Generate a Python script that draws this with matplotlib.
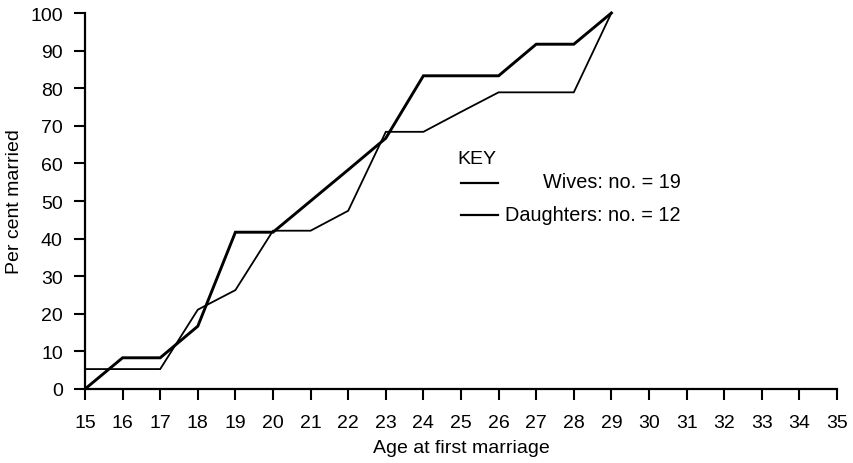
import matplotlib
matplotlib.use("Agg")
import matplotlib.pyplot as plt
from matplotlib.lines import Line2D

plt.rcParams["font.family"] = ["Liberation Sans", "DejaVu Sans"]

# Cumulative percentage married by age
ages = [15, 16, 17, 18, 19, 20, 21, 22, 23, 24, 25, 26, 27, 28, 29]
wives_pct = [5.3, 5.3, 5.3, 21.1, 26.3, 42.1, 42.1, 47.4, 68.4, 68.4, 73.7, 78.9, 78.9, 78.9, 100.0]
daughters_pct = [0.0, 8.3, 8.3, 16.7, 41.7, 41.7, 50.0, 58.3, 66.7, 83.3, 83.3, 83.3, 91.7, 91.7, 100.0]

x_ticks = list(range(15, 36))
y_ticks = list(range(0, 101, 10))
wives_label = "Wives: no. = 19"
daughters_label = "Daughters: no. = 12"

fig = plt.figure(figsize=(8.54, 4.64), dpi=100)
ax = fig.add_axes([85 / 854, 1 - 390 / 464, (837 - 85) / 854, (390 - 14) / 464])

ax.plot(ages, wives_pct, color="black", lw=1.3, clip_on=False, solid_joinstyle="miter")
ax.plot(ages, daughters_pct, color="black", lw=2.1, clip_on=False, solid_joinstyle="miter")

ax.set_xlim(15, 35)
ax.set_ylim(0, 100)
ax.spines["top"].set_visible(False)
ax.spines["right"].set_visible(False)
for s in ("left", "bottom"):
    ax.spines[s].set_linewidth(1.6)

ax.set_xticks(x_ticks)
ax.set_yticks(y_ticks)
ax.tick_params(axis="both", direction="out", length=8, width=1.5, labelsize=14)
ax.tick_params(axis="x", pad=10)
ax.tick_params(axis="y", pad=8)

ax.set_xlabel("Age at first marriage", fontsize=14, labelpad=6)
ax.set_ylabel("Per cent married", fontsize=14, labelpad=5)

# Key
fig.text(457 / 854, 1 - 160 / 464, "KEY", fontsize=14, va="center", ha="left")
fig.add_artist(Line2D([461 / 854, 498 / 854], [1 - 184 / 464] * 2, color="black", lw=1.6))
fig.add_artist(Line2D([461 / 854, 498 / 854], [1 - 216 / 464] * 2, color="black", lw=1.6))
fig.text(681 / 854, 1 - 183 / 464, wives_label, fontsize=14.3, va="center", ha="right")
fig.text(681 / 854, 1 - 216 / 464, daughters_label, fontsize=14.3, va="center", ha="right")

fig.savefig("out.png", dpi=100)
